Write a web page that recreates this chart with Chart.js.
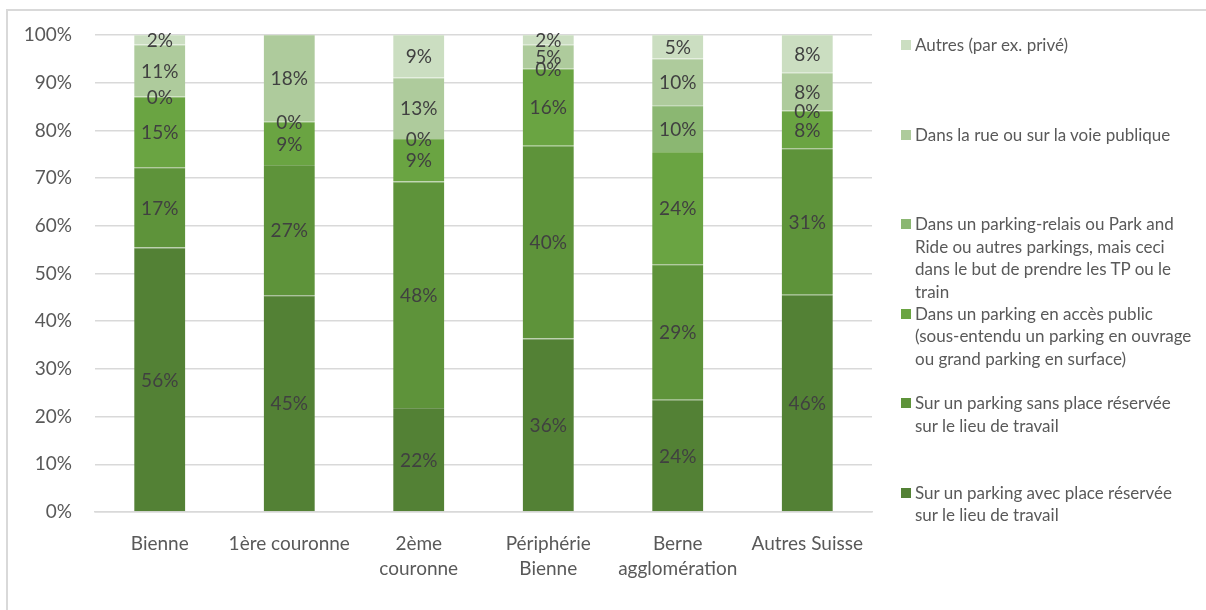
<!DOCTYPE html>
<html>
<head>
<meta charset="utf-8">
<script src="https://cdn.jsdelivr.net/npm/chart.js@4.4.1/dist/chart.umd.min.js"></script>
<style>
  html, body { margin: 0; padding: 0; background: #fff; }
  #wrap { position: relative; width: 1206px; height: 610px; overflow: hidden; font-family: Lato, sans-serif; }
  #frame { position: absolute; left: 6px; top: 9px; right: -4px; bottom: -4px; border-left: 2px solid #d9d9d9; border-top: 2px solid #d9d9d9; }
  #chart { position: absolute; left: 0; top: 0; }
  #legend { position: absolute; left: 0; top: 0; }
  .item { position: absolute; left: 901px; width: 300px; color: #595959; font-size: 17px; line-height: 22.5px; }
  .item .box { position: absolute; left: 0; top: 6px; width: 10px; height: 10px; }
  .item .txt { margin-left: 14px; white-space: nowrap; }
</style>
</head>
<body>
<div id="wrap">
  <div id="frame"></div>
  <canvas id="chart" width="1206" height="610"></canvas>
  <div id="legend"></div>
</div>
<script>
// regions along the x axis
const categories = ['Bienne', '1ère couronne', ['2ème', 'couronne'], ['Périphérie', 'Bienne'], ['Berne', 'agglomération'], 'Autres Suisse'];

// share of respondents per parking type, in % (null = no answer in that region)
const reservedPlace = [56, 45, 22, 36, 24, 46];
const unreservedPlace = [17, 27, 48, 40, 29, 31];
const publicParking = [15, 9, 9, 16, 24, 8];
const parkAndRide = [0, 0, 0, 0, 10, 0];
const street = [11, 18, 13, 5, 10, 8];
const others = [2, null, 9, 2, 5, 8];

const yTicks = [0, 10, 20, 30, 40, 50, 60, 70, 80, 90, 100];

// stacked bottom -> top
const series = [
  { lines: ['Sur un parking avec place réservée', 'sur le lieu de travail'], values: reservedPlace, color: '#538135' },
  { lines: ['Sur un parking sans place réservée', 'sur le lieu de travail'], values: unreservedPlace, color: '#5e933a' },
  { lines: ['Dans un parking en accès public', '(sous-entendu un parking en ouvrage', 'ou grand parking en surface)'], values: publicParking, color: '#6aa442' },
  { lines: ['Dans un parking-relais ou Park and', 'Ride ou autres parkings, mais ceci', 'dans le but de prendre les TP ou le', 'train'], values: parkAndRide, color: '#8bb772' },
  { lines: ['Dans la rue ou sur la voie publique'], values: street, color: '#aecb9c' },
  { lines: ['Autres (par ex. privé)'], values: others, color: '#cbdec1' }
];

// 100% stacked: each column is scaled to its own total
const totals = categories.map((_, i) => series.reduce((s, d) => s + (d.values[i] || 0), 0));

// slightly lighter shade for the thin line between segments
function tint(hex, k) {
  const n = parseInt(hex.slice(1), 16);
  const c = [n >> 16, (n >> 8) & 255, n & 255].map(v => Math.round(v + (255 - v) * k));
  return 'rgb(' + c.join(',') + ')';
}

const segmentLabels = {
  id: 'segmentLabels',
  afterDatasetsDraw(chart) {
    const ctx = chart.ctx;
    ctx.save();
    ctx.font = '19px Lato';
    ctx.fillStyle = '#404040';
    ctx.textAlign = 'center';
    ctx.textBaseline = 'middle';
    chart.data.datasets.forEach((ds, di) => {
      chart.getDatasetMeta(di).data.forEach((bar, i) => {
        if (ds.raw[i] === null) return;
        const y = (bar.y + bar.base) / 2;
        ctx.fillText(ds.raw[i] + '%', bar.x, y + 1);
      });
    });
    ctx.restore();
  }
};

new Chart(document.getElementById('chart'), {
  type: 'bar',
  data: {
    labels: categories,
    datasets: series.map(s => ({
      label: s.lines.join(' '),
      raw: s.values,
      data: s.values.map((v, i) => v === null ? null : v / totals[i] * 100),
      backgroundColor: s.color,
      borderColor: tint(s.color, 0.2),
      borderWidth: { top: 1, left: 0, right: 0, bottom: 0 },
      borderSkipped: false,
      barPercentage: 0.395,
      categoryPercentage: 1
    }))
  },
  options: {
    responsive: false,
    animation: false,
    layout: { padding: { top: 35, right: 334, left: 0, bottom: 0 } },
    plugins: { legend: { display: false }, tooltip: { enabled: false } },
    scales: {
      x: {
        stacked: true,
        grid: { display: false },
        border: { color: '#d9d9d9', width: 1.5 },
        ticks: { color: '#595959', font: { family: 'Lato', size: 19, lineHeight: 1.3 }, padding: 12, maxRotation: 0, autoSkip: false },
        afterFit: s => { s.height = 98; }
      },
      y: {
        stacked: true,
        min: 0,
        max: 100,
        afterBuildTicks: s => { s.ticks = yTicks.map(v => ({ value: v })); },
        grid: { color: '#d9d9d9', lineWidth: 1.5, drawTicks: false },
        border: { display: false },
        ticks: { color: '#595959', font: { family: 'Lato', size: 19 }, padding: 23, callback: v => v + '%' },
        afterFit: s => { s.width = 95; }
      }
    }
  },
  plugins: [segmentLabels]
});

// legend on the right, top entry = last stacked series
const legend = document.getElementById('legend');
series.slice().reverse().forEach((s, k) => {
  const item = document.createElement('div');
  item.className = 'item';
  item.style.top = (34 + k * 89.5) + 'px';
  item.innerHTML = '<span class="box" style="background:' + s.color + '"></span><div class="txt">' + s.lines.join('<br>') + '</div>';
  legend.appendChild(item);
});
</script>
</body>
</html>
